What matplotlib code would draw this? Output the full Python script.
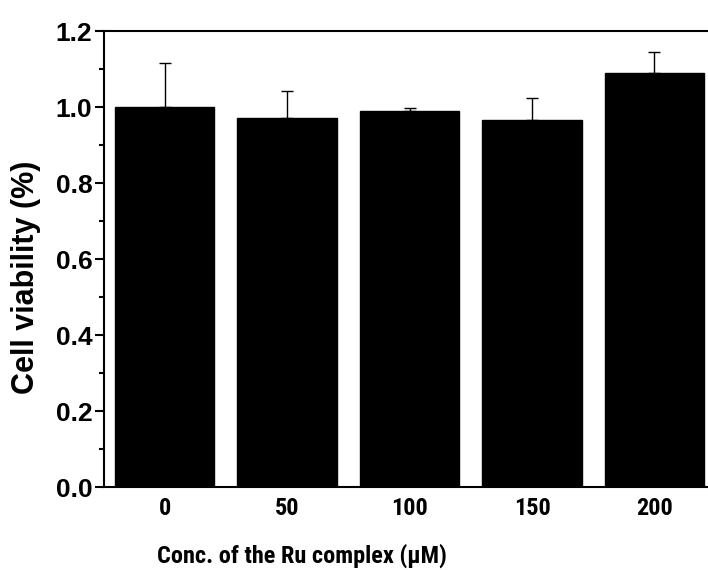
import matplotlib
matplotlib.use("Agg")
import matplotlib.pyplot as plt
import numpy as np
from matplotlib import font_manager
from matplotlib.ticker import MultipleLocator, FormatStrFormatter

plt.rcParams['font.family'] = ['Liberation Sans', 'DejaVu Sans']
plt.rcParams['font.weight'] = 'bold'

# police étroite si disponible (le texte horizontal de l'original est très serré)
installed = {f.name for f in font_manager.fontManager.ttflist}
narrow = next((n for n in ['Liberation Sans Narrow', 'Arial Narrow', 'Roboto Condensed',
                           'Open Sans Condensed'] if n in installed), None)
if narrow:
    x_family = [narrow, 'Liberation Sans', 'DejaVu Sans']
    x_tick_size, x_label_size = 17.5, 17.5
else:
    x_family = ['Liberation Sans', 'DejaVu Sans']
    x_tick_size, x_label_size = 17, 15.5

# Données
concentrations = ['0', '50', '100', '150', '200']
viability = [1.000, 0.971, 0.990, 0.967, 1.089]
erreurs = [0.116, 0.070, 0.007, 0.058, 0.055]

x = np.arange(len(concentrations))

fig = plt.figure(figsize=(7.08, 5.70), dpi=100)
ax = fig.add_axes([0.147, 0.1456, 0.853, 0.80])

ax.bar(x, viability, width=0.81, color='black', edgecolor='black', zorder=2)
ax.errorbar(x, viability, yerr=[[0] * len(erreurs), erreurs], fmt='none',
            ecolor='black', elinewidth=1.0, capsize=4, capthick=1.0, zorder=1)

ax.set_xlim(-0.494, 4.437)
ax.set_ylim(0, 1.2)
ax.set_xticks(x)
ax.set_xticklabels(concentrations, family=x_family, fontsize=x_tick_size, fontweight='bold')
ax.yaxis.set_major_locator(MultipleLocator(0.2))
ax.yaxis.set_minor_locator(MultipleLocator(0.1))
ax.yaxis.set_major_formatter(FormatStrFormatter('%.1f'))

ax.tick_params(axis='y', which='major', direction='out', length=6.5, width=1.5, labelsize=19, pad=2)
ax.tick_params(axis='y', which='minor', direction='out', length=3.5, width=1.5)
ax.tick_params(axis='x', length=0, pad=7)

for s in ['left', 'bottom', 'top']:
    ax.spines[s].set_linewidth(1.5)
ax.spines['right'].set_visible(False)

ax.set_xlabel('Conc. of the Ru complex (\u03bcM)', family=x_family, fontsize=x_label_size, fontweight='bold')
ax.xaxis.set_label_coords(0.328, -0.123)
ax.set_ylabel('Cell viability (%)', fontsize=22, fontweight='bold')
ax.yaxis.set_label_coords(-0.104, 0.46)

fig.savefig('out.png', dpi=100)
